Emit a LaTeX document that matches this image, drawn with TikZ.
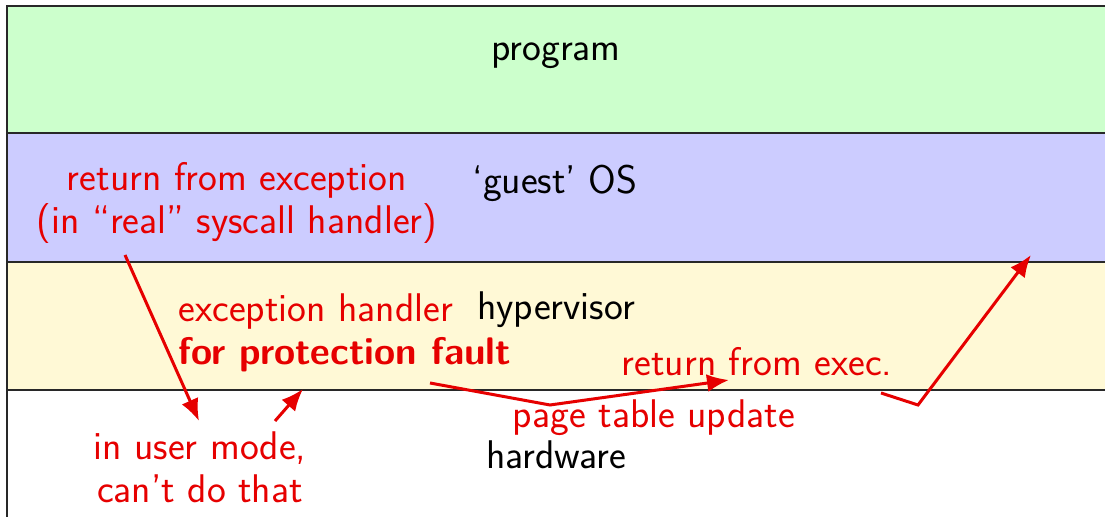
\documentclass[tikz,border=0pt]{standalone}
\usepackage{fontspec}
\usetikzlibrary{arrows.meta}
\definecolor{progc}{RGB}{204,255,204}
\definecolor{guestc}{RGB}{204,204,255}
\definecolor{hypc}{RGB}{255,249,214}
\definecolor{redc}{RGB}{230,0,0}
\definecolor{edgec}{RGB}{40,40,40}
\begin{document}
\begin{tikzpicture}[x=0.5pt,y=-0.5pt,
  layer/.style={draw=edgec,line width=0.7pt},
  lbl/.style={font=\sffamily\fontsize{20}{21.5}\selectfont,inner sep=0pt},
  rlbl/.style={lbl,text=redc},
  rarr/.style={draw=redc,line width=1.5pt,-{Latex[length=11pt,width=9pt]}}]
\useasboundingbox (0,0) rectangle (1105,517);
\path[layer,fill=progc] (7,6) rectangle (1120,133);
\path[layer,fill=guestc] (7,133) rectangle (1120,262);
\path[layer,fill=hypc] (7,262) rectangle (1120,390);
\path[layer,fill=white] (7,390) rectangle (1120,530);
\node[lbl] (prog) at (556,56) {program};
\node[lbl] (guest) at (555,183) {`guest' OS};
\node[lbl] (hyp) at (556,310) {hypervisor};
\node[lbl] (hw) at (556,455) {hardware};
\node[rlbl,align=center] (ret) at (237,203) {return from exception\\(in ``real'' syscall handler)};
\node[rlbl,align=left,anchor=west] (exh) at (178,333) {exception handler\\\textbf{\fontsize{19.2}{21.5}\selectfont for protection fault}};
\node[rlbl] (retx) at (757,362) {return from exec.};
\node[rlbl] (ptu) at (654,418) {page table update};
\node[rlbl,align=center] (um) at (200,467) {in user mode,\\can't do that};
\coordinate (a1s) at (125,255);
\coordinate (a1e) at (199,421);
\coordinate (a2s) at (275,421);
\coordinate (a2e) at (303,389);
\coordinate (a3s) at (430,383);
\coordinate (a3m) at (550,405);
\coordinate (a3e) at (729,380);
\coordinate (a4s) at (881,393);
\coordinate (a4m) at (918,405);
\coordinate (a4e) at (1031,255);
\draw[rarr] (a1s) -- (a1e);
\draw[rarr] (a2s) -- (a2e);
\draw[rarr] (a3s) -- (a3m) -- (a3e);
\draw[rarr] (a4s) -- (a4m) -- (a4e);
\end{tikzpicture}
\end{document}
